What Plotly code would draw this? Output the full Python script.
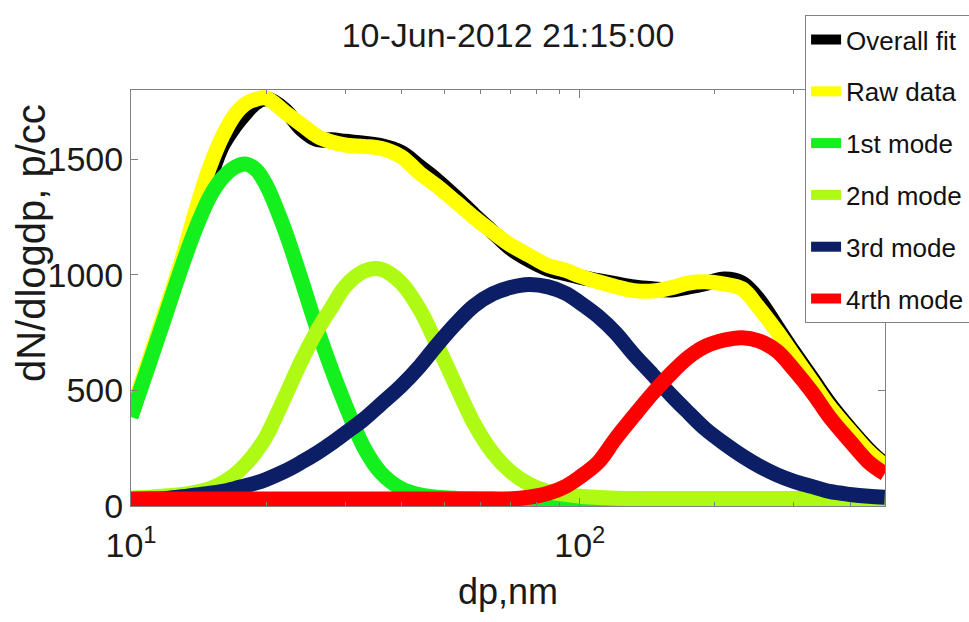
import plotly.graph_objects as go

# Particle diameter grid (nm)
dp = [10, 11, 12, 13, 14, 15, 16, 17, 18, 19, 20, 22, 24, 26, 28, 30, 33, 36, 40, 44,
      48, 53, 58, 64, 70, 77, 85, 93, 100, 110, 120, 132, 145, 160, 175, 190, 210, 230,
      250, 275, 300, 330, 360, 400, 440, 478]

overall_fit = [390, 630, 845, 1050, 1250, 1420, 1560, 1640, 1700, 1745, 1762, 1715, 1630, 1585,
               1585, 1578, 1570, 1560, 1530, 1468, 1410, 1335, 1262, 1185, 1115, 1065, 1025,
               1005, 990, 975, 962, 948, 940, 935, 948, 962, 982, 965, 895, 775, 665, 550, 445,
               335, 245, 180]

raw_data = [400, 640, 860, 1070, 1290, 1470, 1600, 1690, 1740, 1760, 1765, 1705, 1650, 1600,
            1575, 1562, 1556, 1548, 1512, 1440, 1385, 1315, 1250, 1185, 1130, 1085, 1040,
            1020, 995, 970, 950, 932, 930, 945, 965, 970, 960, 940, 860, 755, 650, 535, 430,
            325, 235, 175]

mode1 = [385, 620, 838, 1040, 1210, 1340, 1420, 1465, 1480, 1455, 1390, 1195, 975, 765, 590,
         440, 255, 145, 75, 48, 38, 33, 31, 30, 30, 30, 30, 30, 30, 30, 30, 30, 30, 30, 30,
         30, 30, 30, 30, 30, 30, 30, 30, 30, 30, 30]

mode2 = [35, 38, 44, 50, 60, 75, 100, 135, 180, 235, 300, 470, 630, 760, 860, 950, 1015, 1025,
         965, 850, 700, 520, 360, 230, 150, 95, 62, 50, 42, 37, 34, 32, 30, 30, 30, 30, 30, 30,
         30, 30, 30, 30, 30, 30, 30, 30]

mode3 = [28, 30, 33, 40, 48, 55, 63, 75, 88, 100, 115, 150, 190, 230, 272, 315, 375, 440, 520,
         605, 695, 790, 865, 918, 945, 958, 948, 920, 880, 820, 750, 655, 570, 478, 402, 335,
         270, 217, 175, 135, 107, 84, 63, 50, 42, 38]

mode4 = [30, 30, 30, 30, 30, 30, 30, 30, 30, 30, 30, 30, 30, 30, 30, 30, 30, 30, 30, 30, 30,
         30, 30, 30, 30, 38, 55, 85, 125, 190, 290, 390, 485, 575, 645, 690, 718, 728, 715,
         670, 590, 490, 385, 280, 190, 140]

series_names = ["Overall fit", "Raw data", "1st mode", "2nd mode", "3rd mode", "4rth mode"]
series_values = [overall_fit, raw_data, mode1, mode2, mode3, mode4]
series_colors = ["#000000", "#FFFF00", "#14F01E", "#AFFA14", "#0C1F66", "#FF0000"]
series_widths = [15, 15, 15, 15, 15, 15]

x_tick_vals = [10, 100]
x_tick_text = ["10<sup>1</sup>", "10<sup>2</sup>"]
x_minor_vals = [20, 30, 40, 50, 60, 70, 80, 90, 200, 300, 400]
y_tick_vals = [0, 500, 1000, 1500]
y_tick_text = ["0", "500", "1000", "1500"]

title_text = "10-Jun-2012 21:15:00"
x_title = "dp,nm"
y_title = "dN/dlogdp, p/cc"

FONT = "Liberation Sans, Arial, sans-serif"
AX = "#808080"
TXT = "#1a1a1a"

fig = go.Figure()
for i, (name, vals, col, w) in enumerate(zip(series_names, series_values, series_colors, series_widths)):
    fig.add_trace(go.Scatter(
        x=dp, y=vals, mode="lines", name=name, legendgroup=f"g{i}",
        line=dict(color=col, width=w, shape="spline", smoothing=1.0),
    ))

fig.update_layout(
    width=969, height=622,
    margin=dict(l=131, r=84, t=90, b=116, autoexpand=False),
    paper_bgcolor="white", plot_bgcolor="white",
    font=dict(family=FONT, size=34, color=TXT),
    title=dict(text=title_text, x=0.5, xref="paper", xanchor="center",
               y=1 - 35 / 622, yref="container", yanchor="middle",
               font=dict(family=FONT, size=34, color=TXT)),
    showlegend=True,
    legend=dict(
        x=0.894, y=1.18, xanchor="left", yanchor="top",
        bgcolor="white", bordercolor=AX, borderwidth=1,
        font=dict(family=FONT, size=26, color="#111111"),
        traceorder="grouped", tracegroupgap=15,
        itemwidth=30, entrywidth=180, entrywidthmode="pixels",
    ),
    xaxis=dict(
        type="log", range=[1, 2.68],
        tickmode="array", tickvals=x_tick_vals, ticktext=x_tick_text,
        ticks="inside", ticklen=8, tickcolor=AX, tickwidth=1,
        minor=dict(tickmode="array", tickvals=x_minor_vals, ticks="inside", ticklen=4, tickcolor=AX),
        showline=True, linecolor=AX, linewidth=1, mirror="ticks",
        showgrid=False, zeroline=False,
        ticklabelstandoff=9,
        title=dict(text=x_title, font=dict(family=FONT, size=36), standoff=16),
        tickfont=dict(family=FONT, size=34),
    ),
    yaxis=dict(
        range=[0, 1800],
        tickmode="array", tickvals=y_tick_vals, ticktext=y_tick_text,
        ticks="inside", ticklen=7, tickcolor=AX, tickwidth=1,
        showline=True, linecolor=AX, linewidth=1, mirror="ticks",
        showgrid=False, zeroline=False,
        tickfont=dict(family=FONT, size=34),
    ),
    annotations=[dict(
        text=y_title, textangle=-90, xref="paper", yref="paper",
        x=-0.1326, y=0.632, xanchor="center", yanchor="middle", showarrow=False,
        font=dict(family=FONT, size=40, color=TXT),
    )],
)

fig.write_html("out.html")
